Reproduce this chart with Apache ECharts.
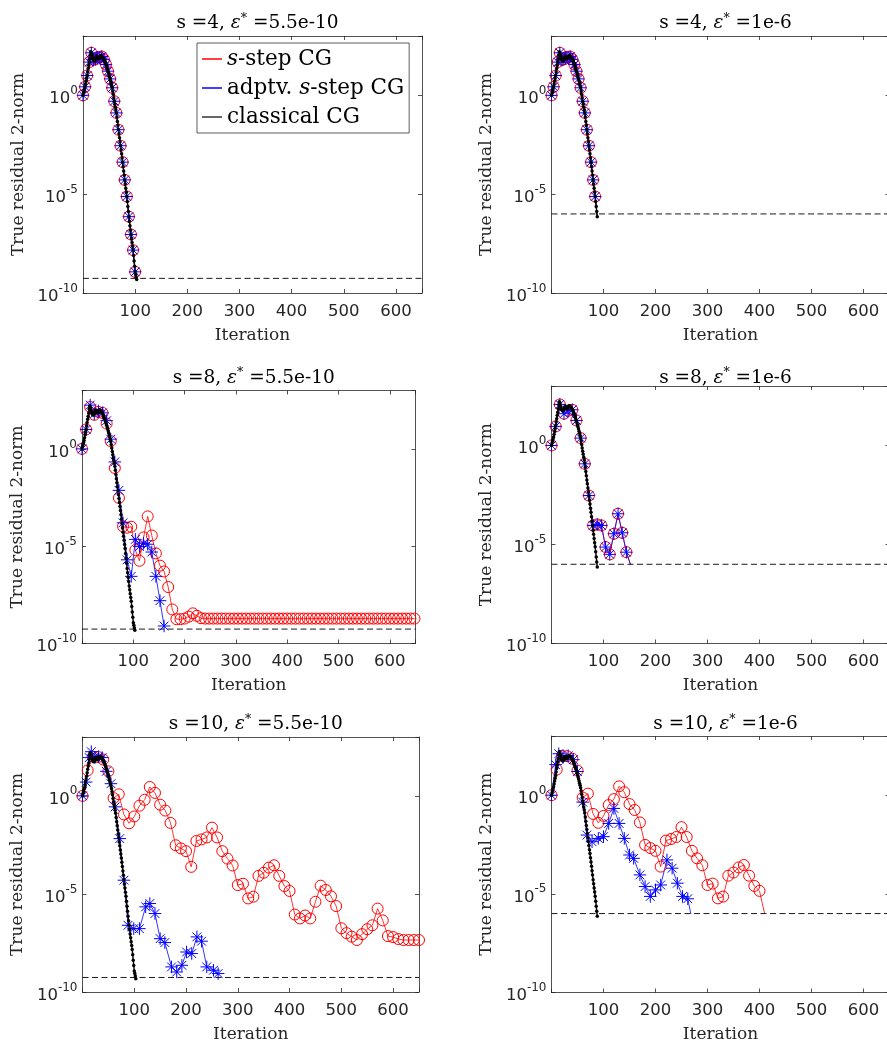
<!DOCTYPE html>
<html><head><meta charset="utf-8">
<script src="https://cdn.jsdelivr.net/npm/echarts@6.0.0/dist/echarts.min.js"></script>
<style>html,body{margin:0;padding:0;background:#fff}#c{width:887px;height:1044px}</style>
</head><body><div id="c"></div>
<script>
// ---------------- DATA (log10 of true residual 2-norm) ----------------
const sValues   = [4, 4, 8, 8, 10, 10];
const epsValues = [5.5e-10, 1e-6, 5.5e-10, 1e-6, 5.5e-10, 1e-6];
const epsLabels = ['5.5e-10', '1e-6', '5.5e-10', '1e-6', '5.5e-10', '1e-6'];
const xTickLabels = [100, 200, 300, 400, 500, 600];
const yTickExponents = [-10, -5, 0];
const legendNames = ['s-step CG', 'adptv. s-step CG', 'classical CG'];

// classical CG, one value per iteration 0..103
const classicalLog10 = [
 0.00,0.12,0.22,0.33,0.43,0.57,0.72,0.86,1.00,1.18,
 1.35,1.52,1.68,1.85,2.05,2.20,2.15,2.05,1.95,1.85,
 1.80,1.75,1.74,1.76,1.82,1.90,1.96,1.98,1.93,1.87,
 1.85,1.88,1.93,1.98,2.00,1.99,1.96,1.93,1.90,1.86,
 1.82,1.76,1.70,1.63,1.56,1.48,1.40,1.31,1.22,1.13,
 1.03,0.93,0.83,0.72,0.61,0.50,0.38,0.22,0.05,-0.13,
 -0.30,-0.45,-0.60,-0.74,-0.89,-1.10,-1.32,-1.53,-1.74,-1.94,
 -2.15,-2.35,-2.55,-2.76,-2.96,-3.17,-3.38,-3.60,-3.83,-4.05,
 -4.28,-4.49,-4.70,-4.91,-5.12,-5.37,-5.63,-5.88,-6.14,-6.37,
 -6.60,-6.82,-7.04,-7.24,-7.44,-7.63,-7.83,-8.10,-8.38,-8.65,
 -8.93,-9.06,-9.19,-9.32];

// s = 4 (s-step and adaptive coincide)
const s4Tight = [[0,0],[4,0.43],[8,1.00],[12,1.68],[16,2.15],[20,1.80],[24,1.82],[28,1.93],[32,1.93],[36,1.96],[40,1.82],[44,1.56],[48,1.22],[52,0.83],[56,0.38],[60,-0.30],[64,-0.89],[68,-1.74],[72,-2.55],[76,-3.38],[80,-4.28],[84,-5.12],[88,-6.14],[92,-7.04],[96,-7.83],[100,-8.93]];
const s4Loose = [[0,0],[4,0.43],[8,1.00],[12,1.68],[16,2.15],[20,1.80],[24,1.82],[28,1.93],[32,1.93],[36,1.96],[40,1.82],[44,1.56],[48,1.22],[52,0.83],[56,0.38],[60,-0.30],[64,-0.89],[68,-1.74],[72,-2.55],[76,-3.38],[80,-4.28],[84,-5.12]];
const s4LooseEnd = [88,-6.14];

// s = 8
const s8RedTight = [[0,0],[8,1.00],[16,2.15],[24,1.75],[32,1.90],[40,1.85],[48,1.30],[56,0.40],[64,-0.98],[72,-2.52],[80,-3.98],[88,-4.05],[96,-4.00],[104,-5.20],[112,-5.75],[120,-4.55],[128,-3.47],[136,-4.45],[144,-5.37],[152,-6.00],[160,-6.30],[168,-7.10],[176,-8.25],[184,-8.75],[192,-8.75],[200,-8.72],[208,-8.62],[216,-8.45],[224,-8.58],[232,-8.70],
 [240,-8.72],[248,-8.72],[256,-8.72],[264,-8.72],[272,-8.72],[280,-8.72],[288,-8.72],[296,-8.72],[304,-8.72],[312,-8.72],[320,-8.72],[328,-8.72],[336,-8.72],[344,-8.72],[352,-8.72],[360,-8.72],[368,-8.72],[376,-8.72],[384,-8.72],[392,-8.72],[400,-8.72],[408,-8.72],[416,-8.72],[424,-8.72],[432,-8.72],[440,-8.72],[448,-8.72],[456,-8.72],[464,-8.72],[472,-8.72],[480,-8.72],[488,-8.72],[496,-8.72],[504,-8.72],[512,-8.72],[520,-8.72],[528,-8.72],[536,-8.72],[544,-8.72],[552,-8.72],[560,-8.72],[568,-8.72],[576,-8.72],[584,-8.72],[592,-8.72],[600,-8.72],[608,-8.72],[616,-8.72],[624,-8.72],[632,-8.72],[640,-8.72],[648,-8.72]];
const s8BlueTight = [[0,0],[8,1.00],[16,2.25],[24,1.80],[32,1.95],[40,1.85],[48,1.45],[56,0.50],[64,-0.67],[72,-2.13],[80,-3.80],[88,-5.70],[96,-6.55],[104,-4.65],[112,-5.02],[120,-4.85],[128,-4.90],[136,-5.30],[144,-6.55],[152,-7.80],[160,-9.10]];
const s8Loose = [[0,0],[8,0.96],[16,2.07],[24,1.60],[32,1.75],[40,1.80],[48,1.26],[56,0.37],[64,-0.93],[72,-2.53],[80,-4.04],[88,-3.99],[96,-4.04],[104,-5.13],[112,-5.50],[120,-4.46],[128,-3.45],[136,-4.41],[144,-5.39]];
const s8LooseEnd = [152,-6.02];

// s = 10
const s10RedTight = [[0,0],[10,1.30],[20,2.00],[30,1.98],[40,1.85],[50,1.25],[60,-0.12],[70,0.08],[80,-0.95],[90,-1.40],[100,-1.05],[110,-0.50],[120,-0.20],[130,0.45],[140,0.15],[150,-0.45],[160,-0.75],[170,-1.38],[180,-2.52],[190,-2.68],[200,-2.82],[210,-3.62],[220,-2.30],[230,-2.22],[240,-2.12],[250,-1.62],[260,-2.12],[270,-2.82],[280,-3.20],[290,-3.55],[300,-4.55],[310,-4.48],[320,-5.23],[330,-5.14],[340,-4.08],[350,-3.92],[360,-3.66],[370,-3.54],[380,-4.08],[390,-4.60],[400,-4.85],[410,-6.05],[420,-6.25],[430,-6.10],[440,-6.25],[450,-5.40],[460,-4.58],[470,-4.80],[480,-5.12],[490,-5.62],[500,-6.75],[510,-7.00],[520,-7.18],[530,-7.35],[540,-7.05],[550,-6.80],[560,-6.60],[570,-5.75],[580,-6.35],[590,-7.15],[600,-7.20],[610,-7.30],[620,-7.35],[630,-7.35],[640,-7.35],[650,-7.35]];
const s10BlueTight = [[0,0],[7,0.70],[13,1.95],[17,2.25],[24,1.95],[31,2.00],[38,1.95],[46,1.25],[55,0.62],[63,-0.56],[72,-2.18],[80,-4.30],[88,-6.60],[99,-6.77],[110,-6.77],[122,-5.66],[130,-5.49],[140,-6.00],[150,-7.28],[159,-7.48],[172,-8.72],[182,-8.98],[192,-8.64],[201,-7.96],[211,-8.04],[221,-7.19],[230,-7.41],[240,-8.72],[253,-8.89],[262,-9.06]];
const s10RedLoose = [[0,0],[10,1.30],[20,2.00],[30,1.98],[40,1.85],[50,1.25],[60,-0.12],[70,0.08],[80,-0.95],[90,-1.40],[100,-1.05],[110,-0.50],[120,-0.20],[130,0.45],[140,0.15],[150,-0.45],[160,-0.75],[170,-1.38],[180,-2.52],[190,-2.68],[200,-2.82],[210,-3.62],[220,-2.30],[230,-2.22],[240,-2.12],[250,-1.62],[260,-2.12],[270,-2.82],[280,-3.20],[290,-3.55],[300,-4.55],[310,-4.48],[320,-5.23],[330,-5.14],[340,-4.08],[350,-3.92],[360,-3.66],[370,-3.54],[380,-4.08],[390,-4.60],[400,-4.85]];
const s10RedLooseEnd = [410,-6.02];
const s10BlueLoose = [[0,0],[8,1.55],[14,2.10],[22,1.90],[32,2.00],[42,1.80],[50,1.20],[60,-0.35],[68,-2.02],[78,-2.36],[90,-2.19],[100,-2.10],[110,-1.43],[120,-0.67],[130,-1.43],[140,-2.19],[150,-3.03],[158,-3.20],[170,-4.04],[180,-4.63],[190,-5.13],[200,-4.80],[210,-4.55],[222,-3.28],[232,-3.70],[242,-4.46],[252,-5.13],[262,-5.25]];
const s10BlueLooseEnd = [268,-6.02];

// per panel: [red, redEnd, blue, blueEnd]
const panelSeries = [
  [s4Tight, null, s4Tight, null],
  [s4Loose, s4LooseEnd, s4Loose, s4LooseEnd],
  [s8RedTight, null, s8BlueTight, null],
  [s8Loose, s8LooseEnd, s8Loose, s8LooseEnd],
  [s10RedTight, null, s10BlueTight, null],
  [s10RedLoose, s10RedLooseEnd, s10BlueLoose, s10BlueLooseEnd]
];

// ---------------- LAYOUT ----------------
const layouts = [
  {left:83,    top:36,    width:339,   height:257},
  {left:551.5, top:36,    width:338,   height:257},
  {left:82,    top:390.5, width:333.5, height:253},
  {left:551.5, top:386,   width:338,   height:257.5},
  {left:82.5,  top:737,   width:336.5, height:255},
  {left:551.5, top:736,   width:338,   height:256.5}
];
const titleCenterY = [18, 18, 372.7, 372.7, 719, 719];

const AX = '#262626';
const SERIF = 'DejaVu Serif';
const SANS = 'DejaVu Sans';
const TFS = 18.5;

function pts(pairs, end) {
  const d = pairs.map(p => [p[0], Math.pow(10, p[1])]);
  if (end) d.push({value: [end[0], Math.pow(10, end[1])], symbol: 'none'});
  return d;
}
function classicalUntil(eps) {
  const out = [];
  for (let i = 0; i < classicalLog10.length; i++) {
    const v = Math.pow(10, classicalLog10[i]);
    out.push([i, v]);
    if (v < eps) break;
  }
  return out;
}

const grids = [], xAxes = [], yAxes = [], series = [], titles = [];
layouts.forEach((L, i) => {
  grids.push({left: L.left, top: L.top, width: L.width, height: L.height, containLabel: false, outerBoundsMode: 'none'});
  const axLine = {show: true, onZero: false, lineStyle: {color: AX, width: 0.8}};
  const axTick = {show: true, inside: true, length: 4, lineStyle: {color: AX, width: 0.8}};
  xAxes.push({
    type: 'value', gridIndex: i, min: 0, max: 650, interval: 100, position: 'bottom',
    axisLine: axLine, axisTick: axTick, splitLine: {show: false},
    axisLabel: {margin: 10, color: AX, fontFamily: SANS, fontSize: 16.5,
      formatter: v => xTickLabels.includes(v) ? String(v) : ''},
    name: 'Iteration', nameLocation: 'middle', nameGap: 34,
    nameTextStyle: {fontFamily: SERIF, fontSize: 17, color: AX}
  });
  xAxes.push({
    type: 'value', gridIndex: i, min: 0, max: 650, interval: 100, position: 'top',
    axisLine: axLine, axisTick: axTick, splitLine: {show: false}, axisLabel: {show: false}
  });
  yAxes.push({
    type: 'log', logBase: 10, gridIndex: i, min: 1e-10, max: 1e3, interval: 5, position: 'left',
    axisLine: axLine, axisTick: axTick, splitLine: {show: false}, minorTick: {show: false},
    axisLabel: {margin: 5, color: AX,
      formatter: v => { const e = Math.round(Math.log10(v)); return yTickExponents.includes(e) ? '{b|10}{s|' + e + '}' : ''; },
      rich: {
        b: {fontFamily: SANS, fontSize: 16.5, color: AX, padding: [7, 0, 0, 0]},
        s: {fontFamily: SANS, fontSize: 12, color: AX, padding: [0, 0, 9, 0]}
      }},
    name: 'True residual 2-norm', nameLocation: 'middle', nameGap: 56,
    nameTextStyle: {fontFamily: SERIF, fontSize: 17, color: AX}
  });
  yAxes.push({
    type: 'log', logBase: 10, gridIndex: i, min: 1e-10, max: 1e3, interval: 5, position: 'right',
    axisLine: axLine, axisTick: axTick, splitLine: {show: false}, axisLabel: {show: false}
  });

  const [red, redEnd, blue, blueEnd] = panelSeries[i];
  const common = {type: 'line', xAxisIndex: 2 * i, yAxisIndex: 2 * i, animation: false, silent: true,
    emphasis: {disabled: true}, clip: true};
  series.push(Object.assign({}, common, {
    name: legendNames[0], data: pts(red, redEnd), symbol: 'circle', symbolSize: 11,
    itemStyle: {color: 'rgba(255,0,0,0)', borderColor: '#ff0000', borderWidth: 1},
    lineStyle: {color: '#ff0000', width: 0.8}
  }));
  series.push(Object.assign({}, common, {
    name: legendNames[1], data: pts(blue, blueEnd),
    symbol: 'path://M0,10L20,10M10,0L10,20M3,3L17,17M3,17L17,3', symbolSize: 12.5,
    itemStyle: {color: 'rgba(0,0,255,0)', borderColor: '#0000ff', borderWidth: 1},
    lineStyle: {color: '#0000ff', width: 0.8}
  }));
  series.push(Object.assign({}, common, {
    name: legendNames[2], data: classicalUntil(epsValues[i]), symbol: 'circle', symbolSize: 3.5,
    itemStyle: {color: '#000'}, lineStyle: {color: '#000', width: 1.4}
  }));
  series.push(Object.assign({}, common, {
    name: 'tolerance', data: [[0, epsValues[i]], [650, epsValues[i]]], symbol: 'none',
    lineStyle: {color: '#000', width: 0.9, type: [6, 3.5]}
  }));

  titles.push({
    text: 's =' + sValues[i] + ', {e|ε}{sup|*} =' + epsLabels[i],
    left: L.left + L.width / 2, top: titleCenterY[i] - 11, textAlign: 'center',
    textStyle: {fontFamily: SERIF, fontSize: TFS, fontWeight: 'normal', color: '#000', lineHeight: 22, rich: {
      e: {fontFamily: SERIF, fontStyle: 'italic', fontWeight: 'normal', fontSize: TFS, color: '#000', lineHeight: 22},
      sup: {fontFamily: SERIF, fontSize: 12.5, fontWeight: 'normal', color: '#000', lineHeight: 22, verticalAlign: 'top', padding: [0, 0, 4, 0]}
    }}
  });
});

const option = {
  animation: false,
  backgroundColor: '#fff',
  textStyle: {fontFamily: SERIF},
  title: titles,
  grid: grids, xAxis: xAxes, yAxis: yAxes, series: series,
  legend: {
    orient: 'vertical', left: 197, top: 43, padding: [5, 5, 5, 5], itemGap: 7,
    itemWidth: 20, itemHeight: 1.5, selectedMode: false,
    backgroundColor: '#fff', borderColor: '#333', borderWidth: 0.8, borderRadius: 0,
    data: [
      {name: legendNames[0], icon: 'rect', itemStyle: {color: '#ff0000', borderWidth: 0}},
      {name: legendNames[1], icon: 'rect', itemStyle: {color: '#0000ff', borderWidth: 0}},
      {name: legendNames[2], icon: 'rect', itemStyle: {color: '#333333', borderWidth: 0}}
    ],
    formatter: n => n.replace('s-step', '{i|s}-step'),
    textStyle: {fontFamily: SERIF, fontSize: 21.5, color: '#000', lineHeight: 22,
      rich: {i: {fontFamily: SERIF, fontStyle: 'italic', fontSize: 21.5, color: '#000', lineHeight: 22}}}
  }
};
const chart = echarts.init(document.getElementById('c'), null, {renderer: 'canvas'});
chart.setOption(option);
</script></body></html>
